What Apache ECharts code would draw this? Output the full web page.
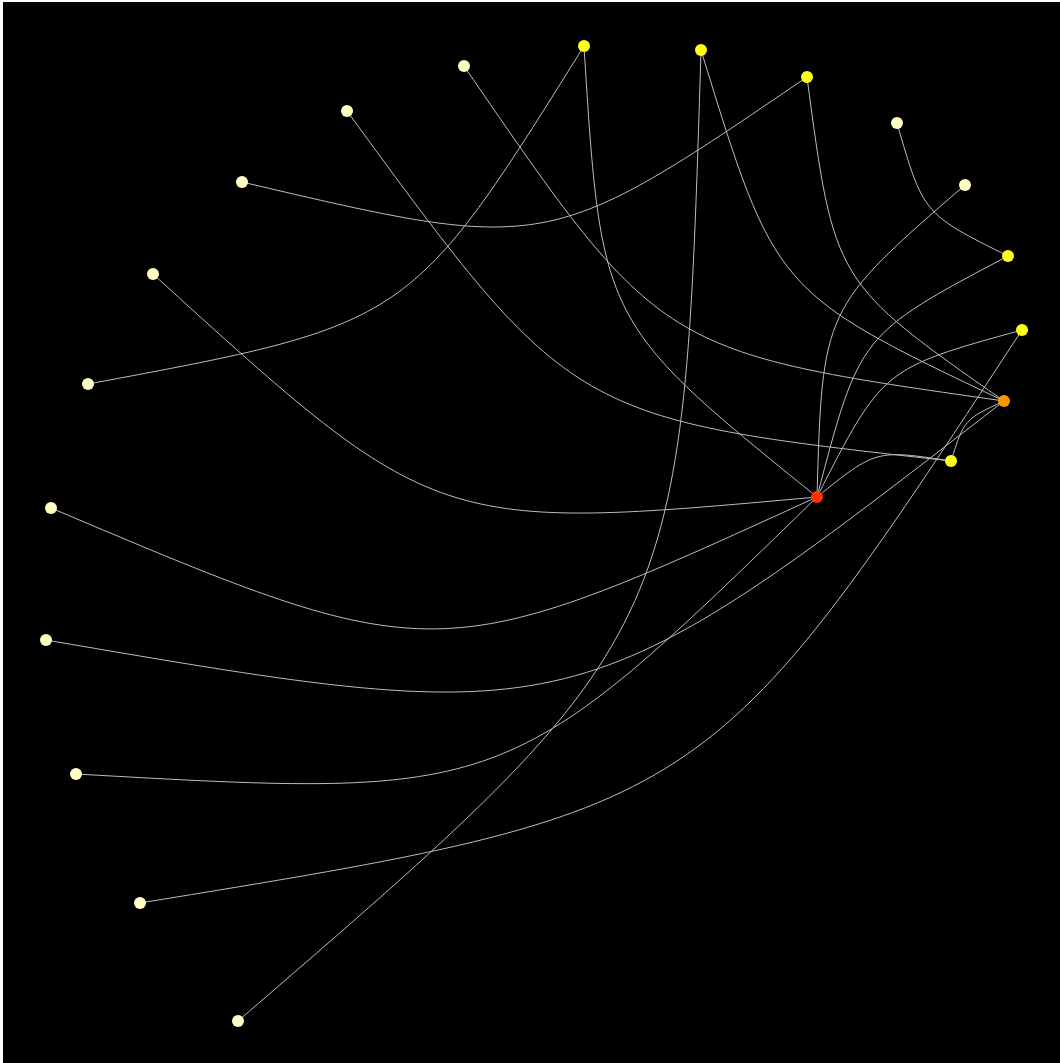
<!DOCTYPE html>
<html>
<head>
<meta charset="utf-8">
<script src="https://cdn.jsdelivr.net/npm/echarts@6/dist/echarts.min.js"></script>
<style>
  html, body { margin: 0; padding: 0; background: #ffffff; }
  #chart { position: absolute; left: 3px; top: 2px; width: 1057px; height: 1061px; background: #000000; }
</style>
</head>
<body>
<div id="chart"></div>
<script>
// Node data (positions, page pixel space)
var nodeNames = ['A','B','C','D','E','F','G','H','I','J','K','L','M','N','P','Q','S','O','Y','R'];
var nodeX     = [584, 701, 807, 464, 347, 242, 153,  88,  51,  46,  76, 140, 238, 897, 965, 1008, 1022, 1004, 951, 817];
var nodeY     = [ 46,  50,  77,  66, 111, 182, 274, 384, 508, 640, 774, 903, 1021, 123, 185, 256, 330, 401, 461, 497];
var nodeValue = [  2,   2,   2,   1,   1,   1,   1,   1,   1,   1,   1,   1,   1,   1,   1,   2,   2,   5,   3,   8];

// Edges (source -> target)
var edgeSource = ['A','R','B','O','C','O','O','Y','R','R','O','R','S','Q','R','R','R','R','Y'];
var edgeTarget = ['H','A','M','B','F','C','D','E','G','I','J','K','L','N','P','Q','S','Y','O'];

var CURVE = 0.22;

function idx(n) { return nodeNames.indexOf(n); }

var nodeData = nodeNames.map(function (n, i) {
  return { name: n, value: [nodeX[i], nodeY[i], nodeValue[i]] };
});
var edgeData = edgeSource.map(function (s, i) {
  var a = idx(s), b = idx(edgeTarget[i]);
  return [nodeX[a], nodeY[a], nodeX[b], nodeY[b]];
});

var chart = echarts.init(document.getElementById('chart'), null, { renderer: 'canvas' });
chart.setOption({
  backgroundColor: '#000000',
  animation: false,
  grid: { left: 0, top: 0, right: 0, bottom: 0 },
  xAxis: { type: 'value', min: 3, max: 1060, show: false },
  yAxis: { type: 'value', min: 2, max: 1063, inverse: true, show: false },
  visualMap: {
    show: false,
    type: 'piecewise',
    seriesIndex: 1,
    dimension: 2,
    pieces: [
      { value: 1, color: '#ffffc4' },
      { min: 2, max: 3, color: '#ffff1e' },
      { value: 5, color: '#ff9500' },
      { value: 8, color: '#ff3300' }
    ]
  },
  series: [{
    type: 'custom',
    z: 1,
    silent: true,
    encode: { x: [0, 2], y: [1, 3] },
    data: edgeData,
    renderItem: function (params, api) {
      var p1 = api.coord([api.value(0), api.value(1)]);
      var p2 = api.coord([api.value(2), api.value(3)]);
      var mx = (p1[0] + p2[0]) / 2, my = (p1[1] + p2[1]) / 2;
      var dx = p2[0] - p1[0], dy = p2[1] - p1[1];
      var cx = mx + dy * CURVE, cy = my - dx * CURVE;
      return {
        type: 'bezierCurve',
        shape: { x1: p1[0], y1: p1[1], x2: p2[0], y2: p2[1], cpx1: cx, cpy1: cy, cpx2: cx, cpy2: cy },
        style: { stroke: '#bdbdbd', lineWidth: 1, fill: null }
      };
    }
  }, {
    type: 'scatter',
    z: 2,
    symbol: 'circle',
    symbolSize: 12,
    itemStyle: { opacity: 1 },
    emphasis: { disabled: true },
    data: nodeData
  }]
});
</script>
</body>
</html>
